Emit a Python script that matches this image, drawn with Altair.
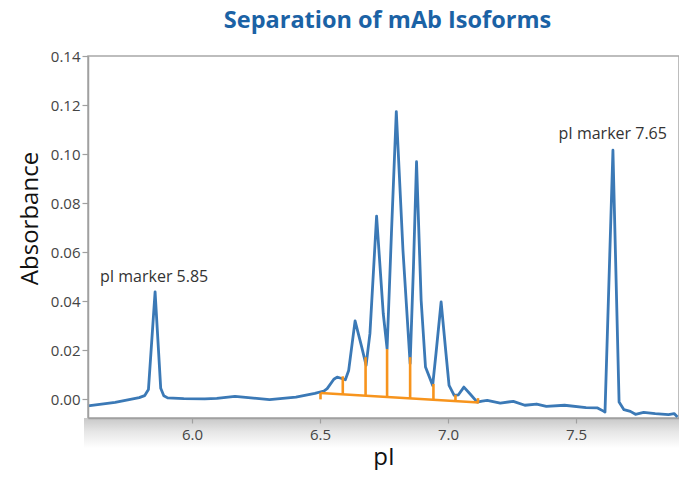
import altair as alt
import pandas as pd

# ---- trace data ----
pI = [5.594, 5.700, 5.794, 5.815, 5.830, 5.856, 5.878, 5.890, 5.905, 5.968,
      6.050, 6.097, 6.168, 6.220, 6.303, 6.406, 6.480, 6.515, 6.528, 6.554,
      6.567, 6.599, 6.612, 6.637, 6.663, 6.680, 6.695, 6.721, 6.747, 6.762,
      6.779, 6.798, 6.824, 6.852, 6.865, 6.877, 6.895, 6.912, 6.940, 6.953,
      6.973, 6.992, 7.004, 7.024, 7.040, 7.062, 7.088, 7.114, 7.133, 7.153,
      7.204, 7.255, 7.300, 7.346, 7.384, 7.455, 7.539, 7.584, 7.607, 7.613,
      7.644, 7.668, 7.687, 7.712, 7.732, 7.764, 7.809, 7.861, 7.883, 7.896]
absorbance = [-0.0027, -0.0012, 0.0007, 0.0015, 0.0040, 0.0438, 0.0045, 0.0015, 0.0006, 0.0003,
              0.0002, 0.0004, 0.0012, 0.0007, -0.0001, 0.0009, 0.0024, 0.0034, 0.0044, 0.0082,
              0.0091, 0.0080, 0.0118, 0.0320, 0.0213, 0.0139, 0.0268, 0.0747, 0.0350, 0.0207,
              0.0676, 0.1173, 0.0608, 0.0146, 0.0540, 0.0969, 0.0404, 0.0132, 0.0057, 0.0187,
              0.0397, 0.0187, 0.0057, 0.0016, 0.0018, 0.0050, 0.0020, -0.0011, -0.0007, -0.0004,
              -0.0015, -0.0008, -0.0024, -0.0019, -0.0029, -0.0024, -0.0034, -0.0035, -0.0048, -0.0052,
              0.1016, -0.0011, -0.0042, -0.0049, -0.0061, -0.0053, -0.0058, -0.0062, -0.0058, -0.0072]

# ---- integration baseline and drop lines ----
base_x = [6.502, 7.120]
base_y = [0.0026, -0.0013]
drop_x = [6.502, 6.589, 6.678, 6.762, 6.852, 6.943, 7.029, 7.117]
drop_top = [0.0026, 0.0094, 0.0172, 0.0205, 0.0172, 0.0063, 0.0019, 0.0005]
drop_bottom = [0.0000, 0.0019, 0.0014, 0.0008, 0.0004, -0.0001, -0.0007, -0.0013]

# ---- annotations ----
label_text = ["pI marker 5.85", "pI marker 7.65"]
label_x = [5.852, 7.643]
label_y = [0.0465, 0.1049]

BLUE = "#3b79b6"
ORANGE = "#f7941d"
FONT = "Open Sans"

trace = pd.DataFrame({"pI": pI, "Absorbance": absorbance})
base = pd.DataFrame({"pI": base_x, "Absorbance": base_y})
drops = pd.DataFrame({"pI": drop_x, "top": drop_top, "bottom": drop_bottom})
labels = pd.DataFrame({"pI": label_x, "Absorbance": label_y, "text": label_text})

xscale = alt.Scale(domain=[5.594, 7.902], nice=False, zero=False)
yscale = alt.Scale(domain=[-0.0076, 0.14], nice=False, zero=False)

W, H = 591, 362

xaxis = alt.Axis(values=[6.0, 6.5, 7.0, 7.5], format=".1f", title="pI",
                 grid=False, tickSize=5, labelPadding=4, zindex=2,
                 titleX=W / 2, titleY=46, titleBaseline="alphabetic",
                 titleAlign="center")
yaxis = alt.Axis(values=[0, 0.02, 0.04, 0.06, 0.08, 0.10, 0.12, 0.14], format=".2f",
                 title="Absorbance", grid=False, tickSize=6, labelPadding=2, zindex=2,
                 titleX=-51, titleY=162, titleBaseline="alphabetic", titleAngle=-90,
                 titleAlign="center")

# soft drop shadow under the frame (decoration)
shadow = alt.Chart(pd.DataFrame({"k": [0]})).mark_rect(
    color=alt.LinearGradient(
        gradient="linear", x1=0, x2=0, y1=0, y2=1,
        stops=[alt.GradientStop(offset=0, color="#c8c8c8"),
               alt.GradientStop(offset=0.45, color="#e6e6e6"),
               alt.GradientStop(offset=1, color="#ffffff")]),
).encode(x=alt.value(-4), x2=alt.value(W), y=alt.value(H), y2=alt.value(H + 30))

line = alt.Chart(trace).mark_line(color=BLUE, strokeWidth=2.8, strokeJoin="round").encode(
    x=alt.X("pI:Q", scale=xscale, axis=xaxis),
    y=alt.Y("Absorbance:Q", scale=yscale, axis=yaxis),
)

baseline = alt.Chart(base).mark_line(color=ORANGE, strokeWidth=2.6).encode(
    x=alt.X("pI:Q", scale=xscale),
    y=alt.Y("Absorbance:Q", scale=yscale),
)

droplines = alt.Chart(drops).mark_rule(color=ORANGE, strokeWidth=2.6).encode(
    x=alt.X("pI:Q", scale=xscale),
    y=alt.Y("top:Q", scale=yscale),
    y2="bottom:Q",
)

text = alt.Chart(labels).mark_text(font=FONT, fontSize=16, color="#333333",
                                   baseline="alphabetic", align="center", dy=-3).encode(
    x=alt.X("pI:Q", scale=xscale),
    y=alt.Y("Absorbance:Q", scale=yscale),
    text="text:N",
)

chart = alt.layer(shadow, line, baseline, droplines, text).properties(
    width=W, height=H,
    title=alt.TitleParams("Separation of mAb Isoforms", font=FONT, fontSize=23.5,
                          fontWeight="bold", color="#1b62a5", anchor="middle",
                          baseline="alphabetic", offset=3, dy=5, dx=4),
    padding={"left": 80, "top": 48, "right": 0, "bottom": 52},
    autosize=alt.AutoSizeParams(type="none"),
).configure_view(
    stroke="#a8a8a8", strokeWidth=1.5
).configure_axis(
    domainColor="#a0a0a0", domainWidth=1.5, tickColor="#a0a0a0", tickWidth=1.2,
    labelFont=FONT, labelFontSize=15, labelColor="#444444",
    titleFont=FONT, titleFontSize=24, titleFontWeight="normal", titleColor="#111111",
)

chart.save("out.html", embed_options={"renderer": "svg", "actions": False})
